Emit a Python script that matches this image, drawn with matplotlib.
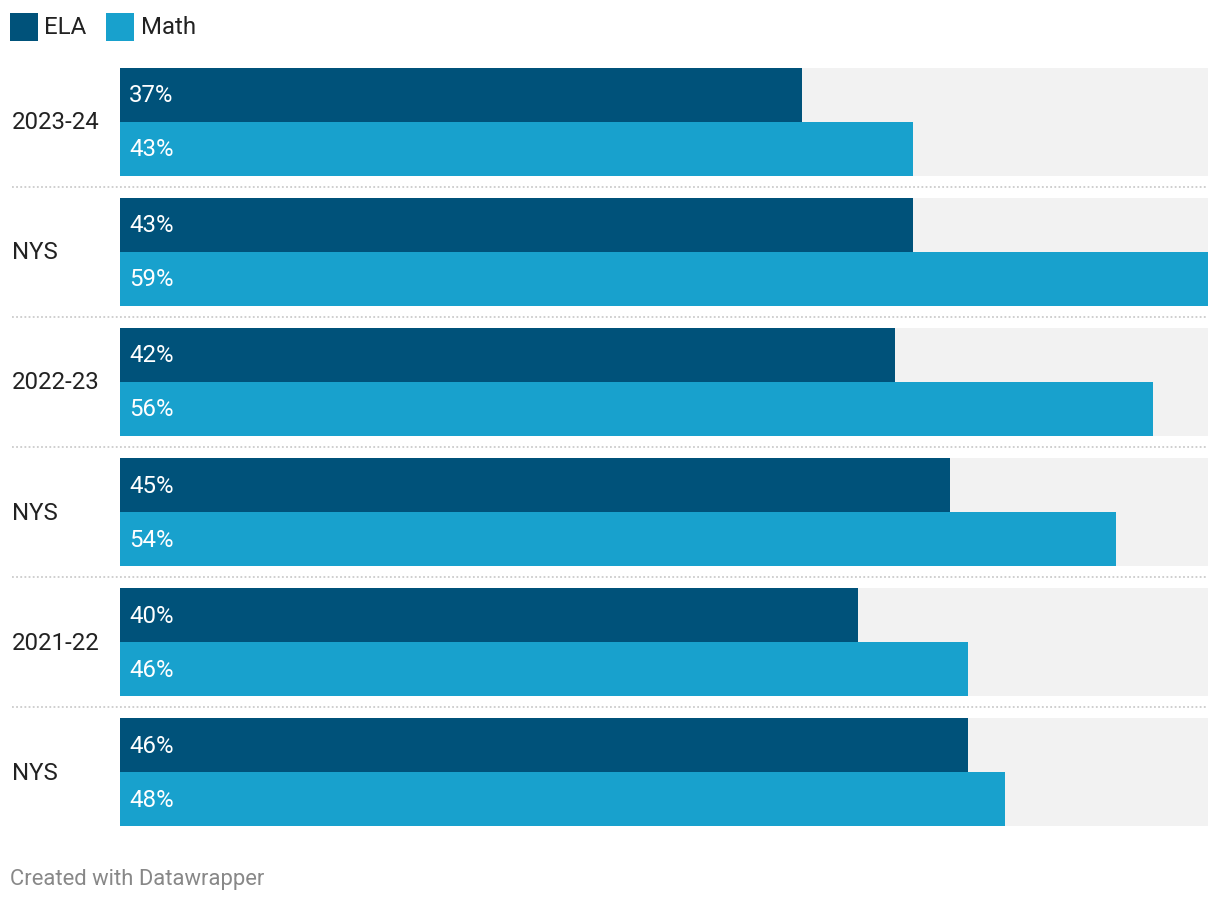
import matplotlib
matplotlib.use('Agg')
import matplotlib.pyplot as plt
from matplotlib.patches import Rectangle
import numpy as np

plt.rcParams['font.family'] = ['Roboto', 'DejaVu Sans']

# data
groups = ['2023-24', 'NYS', '2022-23', 'NYS', '2021-22', 'NYS']
ela = [37, 43, 42, 45, 40, 46]
math = [43, 59, 56, 54, 46, 48]
series_names = ['ELA', 'Math']
colors = ['#00527a', '#18a1cd']
bg_color = '#f2f2f2'

W, H = 1220, 904
fig = plt.figure(figsize=(W / 100, H / 100), dpi=100)

def fx(px): return px / W
def fy(py): return 1 - py / H

# bar area: x 120..1208 px, y 59..837 px
ax = fig.add_axes([fx(120), fy(837), fx(1208) - fx(120), fy(59) - fy(837)])
xmax = max(max(ela), max(math))
ax.set_xlim(0, xmax)
ax.set_ylim(5.4923, -0.4923)
ax.axis('off')

ys = np.arange(len(groups))
h = 54 / 130
off = 27 / 130
fs = 17.3

# grey background tracks
ax.barh(ys - off, [xmax] * len(ys), height=h, color=bg_color, lw=0)
ax.barh(ys + off, [xmax] * len(ys), height=h, color=bg_color, lw=0)
ax.barh(ys - off, ela, height=h, color=colors[0], lw=0)
ax.barh(ys + off, math, height=h, color=colors[1], lw=0)

for y, a, m in zip(ys, ela, math):
    for yy, v in ((y - off, a), (y + off, m)):
        ax.annotate(f'{v}%', xy=(0, yy), xytext=(6.6, 0), textcoords='offset points',
                    ha='left', va='center', color='white', fontsize=fs)

# group labels
trans = ax.get_yaxis_transform()
for y, g in zip(ys, groups):
    ax.text(-108 / 1088, y, g, transform=trans, ha='left', va='center',
            fontsize=fs, color='#222222', clip_on=False)

# dotted separators
for k in range(len(groups) - 1):
    ax.plot([-108 / 1088, 1], [k + 0.5, k + 0.5], transform=trans, clip_on=False,
            color='#cccccc', lw=1.3, linestyle=(0, (1, 1.3)))

# legend
lx = [10, 106]
tx = [44, 141]
for name, c, x0, x1 in zip(series_names, colors, lx, tx):
    fig.add_artist(Rectangle((fx(x0), fy(42)), fx(28), 28 / H, color=c, lw=0,
                             transform=fig.transFigure))
    fig.text(fx(x1), fy(27), name, ha='left', va='center', fontsize=fs, color='#222222')

fig.text(fx(10), fy(880), 'Created with Datawrapper', ha='left', va='center',
         fontsize=15.8, color='#888888')

fig.savefig('out.png', dpi=100, facecolor='white')
